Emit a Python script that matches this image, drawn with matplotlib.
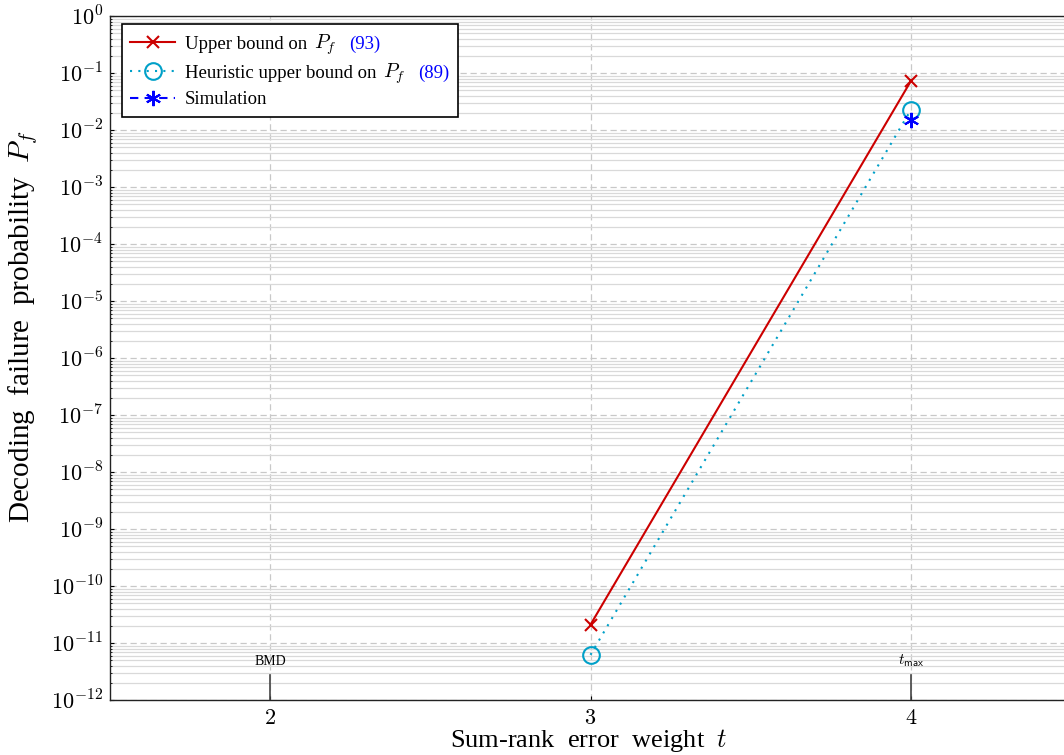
import numpy as np
import matplotlib
matplotlib.use("Agg")
import matplotlib.pyplot as plt
from matplotlib.ticker import FixedLocator, FuncFormatter, LogLocator, NullFormatter
from matplotlib.offsetbox import TextArea, HPacker

plt.rcParams['font.family'] = ['Liberation Serif', 'DejaVu Serif']
plt.rcParams['mathtext.fontset'] = 'cm'

# Data
t_upper = [3, 4]
pf_upper = [2.1e-11, 7.2e-2]
t_heur = [3, 4]
pf_heur = [6.2e-12, 2.25e-2]
t_sim = [4]
pf_sim = [1.5e-2]
xticks = [2, 3, 4]
markers_x = [2, 4]
markers_lbl = ['BMD', r'$t_{\mathsf{max}}$']
legend_labels = ['Upper bound on', 'Heuristic upper bound on', 'Simulation']
legend_refs = ['(93)', '(89)', None]

W, H = 1064, 755
fig = plt.figure(figsize=(W/100, H/100), dpi=100)
ax = fig.add_axes([110/W, (H-700)/H, (1071-110)/W, 684/H])

red = '#cc0000'
cyan = '#00a0c8'
blue = '#0000ff'

ax.plot(t_upper, pf_upper, color=red, lw=1.5, marker='x', ms=9, mew=1.5,
        label=legend_labels[0], zorder=5)
ax.plot(t_heur, pf_heur, color=cyan, lw=1.5, ls=(0, (1, 3)), marker='o', ms=12,
        mfc='none', mew=1.5, label=legend_labels[1], zorder=5)
ax.plot(t_sim, pf_sim, color=blue, lw=1.5, ls=(0, (4, 3)), marker=(6, 2, 0), ms=11,
        mew=1.5, label=legend_labels[2], zorder=6)

ax.set_yscale('log')
ax.set_ylim(1e-12, 1)
ax.set_xlim(1.5, 4.5)

ax.xaxis.set_major_locator(FixedLocator(xticks))
ax.xaxis.set_major_formatter(FuncFormatter(lambda v, p: f'${int(v)}$'))
ax.yaxis.set_major_locator(LogLocator(base=10, numticks=20))
ax.yaxis.set_major_formatter(FuncFormatter(lambda v, p: f'$10^{{{int(round(np.log10(v)))}}}$'))
ax.yaxis.set_minor_locator(LogLocator(base=10, subs=np.arange(2, 10), numticks=20))
ax.yaxis.set_minor_formatter(NullFormatter())

ax.grid(True, which='minor', axis='y', color='#d9d9d9', lw=0.9, ls='-')
ax.grid(True, which='major', axis='y', color='#c8c8c8', lw=0.9, ls=(0, (5, 3)))
ax.grid(True, which='major', axis='x', color='#c8c8c8', lw=0.9, ls=(0, (5, 3)))
ax.set_axisbelow(True)

ax.tick_params(axis='both', which='major', direction='in', length=3, labelsize=16, width=0.8)
ax.tick_params(axis='both', which='minor', direction='in', length=1.5, width=0.6)
ax.tick_params(axis='x', pad=7)
ax.tick_params(axis='y', pad=5)
for s in ax.spines.values():
    s.set_linewidth(1.0)
    s.set_color('#222222')

for xm, lbl, fs in zip(markers_x, markers_lbl, [10, 11]):
    ax.axvline(xm, ymin=0, ymax=25/684, color='#444444', lw=1.2, zorder=4)
    ax.text(xm, 4.8e-12, lbl, ha='center', va='center', fontsize=fs, zorder=4)

ax.set_xlabel(r'Sum-rank  error  weight  $t$', fontsize=19)
ax.set_ylabel(r'Decoding  failure  probability  $P_f$', fontsize=21)
ax.xaxis.set_label_coords(0.5 - 2 / 961, -(740 - 700) / 684)
ax.xaxis.label.set_va('center')
ax.yaxis.set_label_coords(-(110 - 23) / 961, (700 - 327) / 684)
ax.yaxis.label.set_va('center')

leg = ax.legend(loc='upper left', bbox_to_anchor=(12/961, 1 - 8/684), fontsize=13.5,
                frameon=True, fancybox=False, edgecolor='black', framealpha=1,
                handlelength=2.4, handletextpad=0.5, borderpad=0.45, labelspacing=0.25,
                borderaxespad=0)
leg.get_frame().set_linewidth(1.2)

# Append "P_f" and blue reference numbers to the first two legend entries
try:
    col = leg._legend_handle_box.get_children()[0]
    for hp, ref in zip(col.get_children(), legend_refs):
        if ref is None:
            continue
        kids = hp.get_children()
        orig = kids[1]
        pf = TextArea(r'$P_f$', textprops=dict(fontsize=14.5))
        rf = TextArea(ref, textprops=dict(color=blue, fontsize=13.5, family='Liberation Serif'))
        inner = HPacker(children=[pf, rf], sep=9, pad=0, align='baseline')
        outer = HPacker(children=[orig, inner], sep=5, pad=0, align='baseline')
        for a in (pf, rf, inner, outer):
            a.set_figure(fig)
        kids[1] = outer
except Exception:
    pass

fig.savefig('out.png', dpi=100)
